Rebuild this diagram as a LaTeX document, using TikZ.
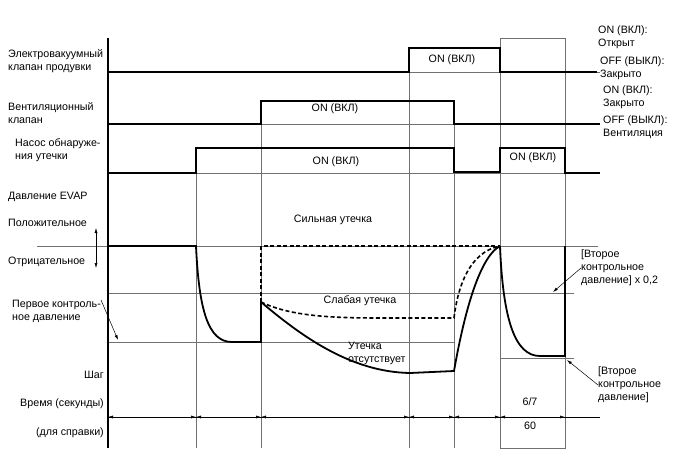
\documentclass[tikz,border=0pt]{standalone}
\usepackage{fontspec}
\setmainfont{Liberation Sans}
\usetikzlibrary{arrows.meta}
\definecolor{evapGreyLine}{HTML}{707070}
\tikzset{
  signal line/.style={line width=1.8pt, line join=miter},
  grid line/.style={line width=0.7pt, draw=evapGreyLine},
  leak dash/.style={signal line, line width=1.6pt, dash pattern=on 4pt off 2.5pt},
  dim arrow/.style={line width=0.5pt, {Latex[length=5pt,width=3pt]}-{Latex[length=5pt,width=3pt]}},
  pointer/.style={line width=0.5pt, -{Latex[length=5pt,width=3pt]}},
  lbl/.style={inner sep=0pt, align=left, font=\fontsize{10.7}{13}\selectfont},
}

\begin{document}
\begin{tikzpicture}[x=1pt, y=-1pt]
\useasboundingbox (0,0) rectangle (688,463);

%% grid and reference levels
\draw[grid line] (500,38) rectangle (565,448);
\foreach \gx/\gtop in {196/148, 261/101, 409/48, 454/101}
  \draw[grid line] (\gx,\gtop) -- (\gx,448);
\foreach \gy in {72,124,173}
  \draw[grid line] (108,\gy) -- (600,\gy);
\draw[grid line] (37,246) -- (598,246);
\draw[grid line] (108,293) -- (574,293);
\draw[grid line] (108,342) -- (454,342);
\draw[grid line] (500,358) -- (574,358);

% main axis
\draw[signal line] (108,38) -- (108,448);

%% time axis
\draw[line width=0.5pt] (108,417) -- (600,417);
\foreach \i/\tx in {0/108,1/196,2/261,3/409,4/454,5/500,6/565}
  \coordinate (t\i) at (\tx,417);
\foreach \a/\b in {0/1,1/2,2/3,3/4,4/5,5/6}
  \draw[dim arrow] (t\a) -- (t\b);

%% signals
\draw[signal line] (108,72) -- (409,72) -- (409,48) -- (500,48) -- (500,72) -- (597,72);
\draw[signal line] (108,124) -- (261,124) -- (261,101) -- (454,101) -- (454,124) -- (600,124);
\draw[signal line] (108,173) -- (196,173) -- (196,148) -- (454,148) -- (454,172)
  -- (500,172) -- (500,148) -- (565,148) -- (565,173) -- (600,173);

%% EVAP pressure
\draw[signal line] (108,246) -- (196,246) .. controls (199,310) and (208,342) .. (232,342)
  -- (261,342) -- (261,302);
% no leak
\draw[signal line] (261,302) .. controls (300,335) and (350,372) .. (410,373) -- (454,371)
  .. controls (463,320) and (478,258) .. (500,246);
% small leak
\draw[leak dash] (261,302) .. controls (290,316) and (330,318) .. (380,318) -- (454,318)
  .. controls (458,285) and (470,252) .. (500,246);
% large leak
\draw[leak dash] (261,302) -- (261,246) -- (500,246);
% second check
\draw[signal line] (500,246) .. controls (503,320) and (515,356) .. (540,356) -- (565,356) -- (565,246);

%% left labels
\node[lbl, anchor=west] (valveLbl) at (8,61.5) {Электровакуумный\\клапан продувки};
\node[lbl, anchor=west] (ventLbl) at (8,113) {Вентиляционный\\клапан};
\node[lbl, anchor=west] (pumpLbl) at (15,150.5) {Насос обнаруже-\\ния утечки};
\node[lbl, anchor=west] (evapLbl) at (8,197) {Давление EVAP};
\node[lbl, anchor=west] (posLbl) at (8,223) {Положительное};
\node[lbl, anchor=west] (negLbl) at (8,262) {Отрицательное};
\node[lbl, anchor=west] (firstLbl) at (12,311.5) {Первое контроль-\\ное давление};
\node[lbl, anchor=east] (stepLbl) at (104,375) {Шаг};
\node[lbl, anchor=east] (timeLbl) at (104,404) {Время (секунды)};
\node[lbl, anchor=east] (refLbl) at (104,433) {(для справки)};

\coordinate (posTip) at (96,228);
\coordinate (negTip) at (96,268);
\draw[dim arrow] (posTip) -- (negTip);
\coordinate (firstPt) at (118,340);
\draw[pointer] (firstLbl.north east) -- (firstPt);

%% right labels
\node[lbl, anchor=west] (onOpen) at (598,37) {ON (ВКЛ):\\Открыт};
\node[lbl, anchor=west] (offClosed) at (600,68.5) {OFF (ВЫКЛ):\\Закрыто};
\node[lbl, anchor=west] (onClosed) at (603,97.5) {ON (ВКЛ):\\Закрыто};
\node[lbl, anchor=west] (offVent) at (603,127) {OFF (ВЫКЛ):\\Вентиляция};

%% labels in the chart
\node[lbl] (valveOn) at (452,60) {ON (ВКЛ)};
\node[lbl] (ventOn) at (335,109) {ON (ВКЛ)};
\node[lbl] (pumpOn) at (336,162) {ON (ВКЛ)};
\node[lbl] (pumpOnTwo) at (533,158) {ON (ВКЛ)};
\node[lbl] (largeLbl) at (333,220) {Сильная утечка};
\node[lbl] (smallLbl) at (360,301) {Слабая утечка};
\node[lbl, anchor=west] (noLeakLbl) at (348,353) {Утечка\\отсутствует};
\node[lbl] (stepTime) at (530,402) {6/7};
\node[lbl] (stepRef) at (530,426) {60};

\node[lbl, anchor=west] (secondPartLbl) at (581,268) {[Второе\\контрольное\\давление] x 0,2};
\coordinate (secondPartPt) at (553,292);
\draw[pointer] (secondPartLbl.west) -- (secondPartPt);
\node[lbl, anchor=west] (secondLbl) at (598,385) {[Второе\\контрольное\\давление]};
\coordinate (secondPt) at (567,360);
\draw[pointer] (secondLbl.west) -- (secondPt);

\end{tikzpicture}
\end{document}
